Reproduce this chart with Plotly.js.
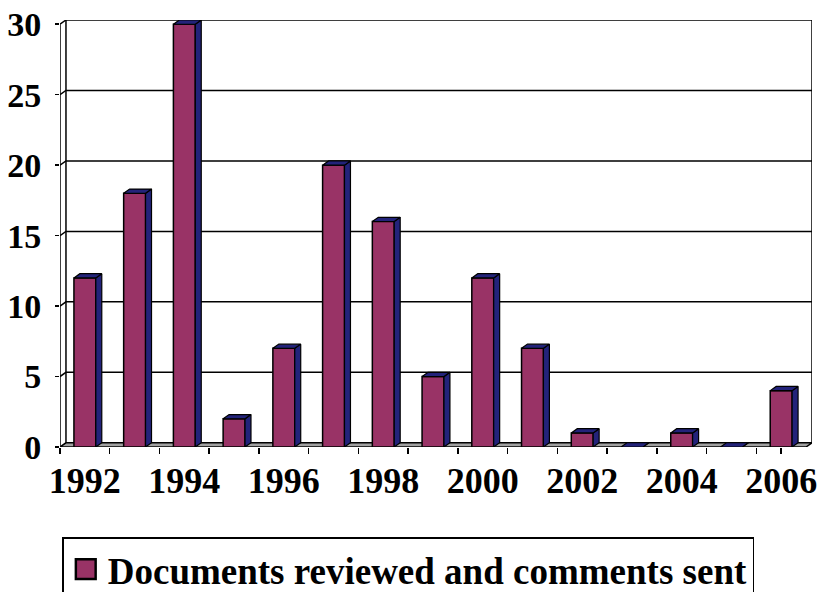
<!DOCTYPE html>
<html>
<head>
<meta charset="utf-8">
<script src="https://cdn.plot.ly/plotly-3.0.1.min.js"></script>
<style>
  html, body { margin: 0; padding: 0; background: #ffffff; }
  #chart { width: 817px; height: 592px; }
</style>
</head>
<body>
<div id="chart"></div>
<script>
// Documents reviewed per year
const years = [1992, 1993, 1994, 1995, 1996, 1997, 1998, 1999, 2000, 2001, 2002, 2003, 2004, 2005, 2006];
const docsReviewed = [12, 18, 30, 2, 7, 20, 16, 5, 12, 7, 1, 0, 1, 0, 4];
const seriesName = 'Documents reviewed and comments sent';

// Axis ticks
const yTicks = [0, 5, 10, 15, 20, 25, 30];
const xLabelYears = [1992, 1994, 1996, 1998, 2000, 2002, 2004, 2006];
const xLabelText = ['1992', '1994', '1996', '1998', '2000', '2002', '2004', '2006'];

// Pseudo-3D depth in data units
const DX = 0.12;   // horizontal depth (category units)
const DY = 0.3;    // vertical depth (value units)
const BAR_W = 0.44;

const xMin = years[0] - 0.5;
const xMax = years[years.length - 1] + 0.5;
const yMax = yTicks[yTicks.length - 1];

const FRONT = '#993366';
const SIDE = '#23237a';
const FONT = '"Liberation Serif", "Times New Roman", serif';

// Side and top faces of each bar as closed polygons
const sideX = [], sideY = [], topX = [], topY = [];
years.forEach((yr, i) => {
  const v = docsReviewed[i];
  const xl = yr - BAR_W / 2, xr = yr + BAR_W / 2;
  sideX.push(xr, xr + DX, xr + DX, xr, xr, null);
  sideY.push(0, DY, v + DY, v, 0, null);
  topX.push(xl, xl + DX, xr + DX, xr, xl, null);
  topY.push(v, v + DY, v + DY, v, v, null);
});

const traces = [
  {
    type: 'bar', x: years, y: docsReviewed, width: BAR_W, name: seriesName,
    marker: { color: FRONT, line: { color: '#000000', width: 1.5 } },
    hoverinfo: 'x+y'
  },
  {
    type: 'scatter', mode: 'lines', x: sideX, y: sideY, fill: 'toself',
    fillcolor: SIDE, line: { color: '#000000', width: 1.2 },
    showlegend: false, hoverinfo: 'skip'
  },
  {
    type: 'scatter', mode: 'lines', x: topX, y: topY, fill: 'toself',
    fillcolor: SIDE, line: { color: '#000000', width: 1.2 },
    showlegend: false, hoverinfo: 'skip'
  },
  {
    // carries the year labels on the overlaid axis
    type: 'scatter', mode: 'none', x: xLabelYears, y: xLabelYears.map(() => 0),
    xaxis: 'x2', showlegend: false, hoverinfo: 'skip'
  }
];

// Walls and floor of the 3D frame
const shapes = [];
const line = { color: '#000000', width: 1.5 };
// floor
shapes.push({
  type: 'path', layer: 'below', xref: 'x', yref: 'y',
  path: `M ${xMin},0 L ${xMin + DX},${DY} L ${xMax + DX},${DY} L ${xMax},0 Z`,
  fillcolor: '#a0a0a0', line: line
});
// grid lines running across the left and back walls
yTicks.filter(v => v > 0).forEach(v => {
  shapes.push({
    type: 'path', layer: 'below', xref: 'x', yref: 'y',
    path: `M ${xMin},${v} L ${xMin + DX},${v + DY} L ${xMax + DX},${v + DY}`,
    line: line
  });
});
// wall edges
shapes.push({ type: 'line', layer: 'below', xref: 'x', yref: 'y', x0: xMin + DX, y0: DY, x1: xMin + DX, y1: yMax + DY, line: line });
shapes.push({ type: 'line', layer: 'below', xref: 'x', yref: 'y', x0: xMax + DX, y0: DY, x1: xMax + DX, y1: yMax + DY, line: line });
shapes.push({ type: 'line', layer: 'below', xref: 'x', yref: 'y', x0: xMin, y0: 0, x1: xMin, y1: yMax, line: line });

const layout = {
  width: 817, height: 592,
  margin: { l: 60, r: 5, t: 20, b: 145, autoexpand: false },
  paper_bgcolor: '#ffffff', plot_bgcolor: '#ffffff',
  showlegend: true,
  font: { family: FONT, color: '#000000' },
  xaxis: {
    range: [xMin, xMax + DX],
    tickmode: 'array',
    tickvals: years.concat([xMax]).map(y => y - 0.5),
    ticks: 'outside', ticklen: 6, tickwidth: 1.5, tickcolor: '#000000',
    showticklabels: false, showgrid: false, zeroline: false, showline: false,
    fixedrange: true
  },
  xaxis2: {
    overlaying: 'x', anchor: 'y', side: 'bottom',
    range: [xMin, xMax + DX],
    tickmode: 'array', tickvals: xLabelYears, ticktext: xLabelText,
    ticks: '', ticklabelstandoff: 9, ticklabeloverflow: 'allow',
    tickfont: { family: FONT, size: 36, color: '#000000', weight: 'bold' },
    showgrid: false, zeroline: false, showline: false, fixedrange: true
  },
  yaxis: {
    range: [0, yMax + DY],
    tickmode: 'array', tickvals: yTicks,
    ticks: 'outside', ticklen: 4, tickwidth: 1.5, tickcolor: '#000000',
    ticklabelstandoff: 7,
    tickfont: { family: FONT, size: 34, color: '#000000', weight: 'bold' },
    showgrid: false, zeroline: false, showline: false, fixedrange: true
  },
  legend: {
    orientation: 'h', x: 0.003, xanchor: 'left', y: -0.211, yanchor: 'top',
    itemwidth: 34,
    bordercolor: '#000000', borderwidth: 1.5, bgcolor: '#ffffff',
    font: { family: FONT, size: 37, color: '#000000', weight: 'bold' }
  },
  shapes: shapes
};

Plotly.newPlot('chart', traces, layout, { displayModeBar: false, staticPlot: true })
  .then(gd => {
    // larger legend swatch, keeping its own placement
    gd.querySelectorAll('.legend .legendpoints path').forEach(p => {
      const t = p.getAttribute('transform') || '';
      p.setAttribute('transform', (t + ' scale(1.65)').trim());
    });
  });
</script>
</body>
</html>
